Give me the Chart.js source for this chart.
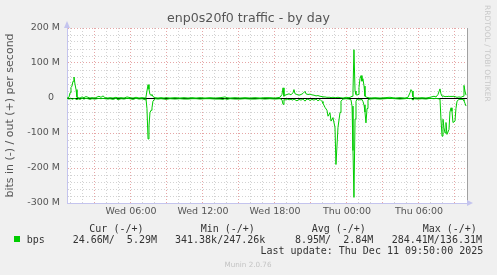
<!DOCTYPE html>
<html><head><meta charset="utf-8">
<script src="https://cdn.jsdelivr.net/npm/chart.js@4/dist/chart.umd.min.js"></script>
<style>
html,body{margin:0;padding:0;background:#f0f0f0;}
#wrap{position:relative;width:497px;height:275px;overflow:hidden;background:#f0f0f0;}
canvas{position:absolute;left:0;top:0;}
.mono{position:absolute;white-space:pre;font-family:"DejaVu Sans Mono",monospace;font-size:10px;line-height:12px;color:#333;}
.munin{position:absolute;white-space:pre;font-family:"DejaVu Sans",sans-serif;font-size:7.2px;line-height:9px;color:#c4c4c4;}
.rrd{position:absolute;white-space:pre;font-family:"DejaVu Sans",sans-serif;font-size:7.5px;line-height:9px;color:#c8c8c8;writing-mode:vertical-rl;}
.swatch{position:absolute;width:6px;height:6px;background:#00cc00;}
</style></head>
<body><div id="wrap"><canvas id="c" width="497" height="275"></canvas></div>
<script>
// ---- data (Mbit/s), time in hours from Wed 00:00 ----
const times = [
 0.67,0.83,0.92,1.00,1.08,1.17,1.25,1.33,1.42,1.50, 1.58,1.75,1.92,2.08,2.25,2.42,2.58,2.75,3.00,3.33,
 3.50,3.67,3.83,4.08,4.25,4.50,4.75,4.92,5.17,5.42, 5.67,5.92,6.17,6.42,6.67,6.92,7.17,7.25,7.33,7.42,
 7.50,7.58,7.67,7.75,7.83,8.00,
 8.25,8.50,8.75,8.92,9.25,9.67,10.08,10.42,10.75,11.08, 11.42,11.75,12.17,12.58,13.00,13.42,13.67,13.83,14.00,14.25,
 14.67,15.08,15.50,15.92,16.33,16.75,17.17,17.58,18.00,18.42,
 18.58,18.67,18.75,18.83,19.00,19.17,19.33,19.50,19.58,19.67, 19.83,20.00,20.17,20.33,20.50,20.58,20.75,20.92,21.08,21.25,
 21.42,21.58,21.75,21.92,22.00,22.17,22.33,22.42,22.58,22.67, 22.83,23.00,23.08,23.25,23.42,23.50,23.67,
 23.92,24.17,24.33,24.42,24.50,24.58,24.67,24.75,24.83,24.92, 25.00,25.08,25.17,25.25,25.33,25.42,25.50,25.58,25.67,25.75,
 25.92,
 26.33,26.75,27.17,27.58,28.00,28.42,28.83,29.08,29.25,29.33, 29.42,29.50,29.58,29.92,30.25,30.58,30.92,31.25,31.42,31.58,
 31.75,31.83,31.92,32.00,32.08,32.17,32.25,32.33,32.50,32.58, 32.67,32.75,32.83,33.00,33.08,33.17,33.33,33.50,33.67,33.75,
 33.83,33.92
];
const outMbps = [
 0,2,15,30,34,48,60,40,24,2, 1,0,3,1,4,2,0,1,0,5,
 2,6,1,0,1,0,2,0,1,0, 3,1,0,2,0,1,0,3,20,38,
 25,10,8,10,4,1,
 0,1,0,1,0,1,0,1,0,1, 0,1,0,1,0,1,2,3,1,0,
 1,0,1,0,1,0,1,1,0,2,
 10,29,5,8,10,12,9,15,24,12, 10,8,10,13,19,12,10,11,9,8,
 6,7,5,4,3,3,2,2,2,1, 2,1,1,2,1,1,0,
 2,1,3,5,20,138,20,10,8,10, 30,55,64,48,55,34,5,3,2,1,
 0,
 1,0,1,2,0,1,0,2,15,24, 20,3,1,0,1,0,2,5,3,10,
 26,12,5,6,5,4,5,4,5,4, 5,4,5,4,3,2,3,2,5,36,
 20,8
];
const inMbps = [
 -1,-3,-2,-1,-4,-2,-1,-2,-3,-5, -2,-4,-1,-3,-1,-2,-4,-2,-3,-1,
 -2,-1,-2,-3,-2,-4,-1,-5,-2,-3, -1,-2,-4,-1,-3,-2,-5,-2,-30,-117,
 -80,-42,-35,-28,-9,-2,
 -3,-2,-3,-4,-2,-3,-2,-3,-3,-2, -2,-3,-2,-2,-3,-3,-4,-2,-4,-2,
 -3,-3,-2,-3,-3,-2,-3,-2,-3,-2,
 -5,-18,-4,-6,-3,-5,-4,-6,-3,-5, -8,-4,-6,-3,-9,-5,-3,-7,-4,-6,
 -3,-8,-4,-10,-15,-27,-35,-52,-42,-66, -56,-84,-190,-84,-41,-9,-3,
 -2,-3,-5,-23,-150,-284,-60,-10,-3,-5, -4,-6,-4,-5,-10,-20,-40,-71,-30,-5,
 -3,
 -2,-3,-2,-1,-2,-3,-2,-1,-2,-1, -3,-6,-2,-3,-2,-3,-1,-2,-1,-2,
 -3,-60,-109,-61,-85,-100,-70,-104,-90,-40, -28,-38,-70,-66,-30,-9,-4,-4,-4,-8,
 -15,-23
];
const xTickHours = [6, 12, 18, 24, 30];
const xTickLabels = ['Wed 06:00', 'Wed 12:00', 'Wed 18:00', 'Thu 00:00', 'Thu 06:00'];
const yTickValues = [-300, -200, -100, 0, 100, 200];
const yTickLabels = ['-300 M', '-200 M', '-100 M', '0  ', '100 M', '200 M'];
const seriesName = 'bps';
const statHeaders = ['Cur (-/+)', 'Min (-/+)', 'Avg (-/+)', 'Max (-/+)'];
const statValues = ['24.66M/  5.29M', '341.38k/247.26k', '8.95M/  2.84M', '284.41M/136.31M'];
const lastUpdate = 'Last update: Thu Dec 11 09:50:00 2025';
const chartTitle = 'enp0s20f0 traffic - by day';
const yTitle = 'bits in (-) / out (+) per second';
const creditText = 'Munin 2.0.76';
const sideText = 'RRDTOOL / TOBI OETIKER';

// ---- style ----
const GREEN = '#00cc00';
const MAJOR = '#e6a6a6';
const MINOR = '#d2d2d2';
const AXIS = '#c4c4ee';
const LABEL = '#555555';
const tickFont = {family: 'DejaVu Sans', size: 9.5};

const hourGrid = []; for (let h = 1; h <= 34; h++) hourGrid.push(h);
const yGrid = []; for (let v = -300; v <= 200; v += 20) yGrid.push(v);

const pts = arr => arr.map((v, i) => ({x: times[i], y: v}));

const decor = {
  id: 'decor',
  beforeDraw(chart) {
    const {ctx, chartArea: a} = chart;
    ctx.save(); ctx.fillStyle = '#ffffff';
    ctx.fillRect(a.left, a.top, a.right - a.left, a.bottom - a.top);
    ctx.restore();
  },
  afterDraw(chart) {
    const {ctx, chartArea: a} = chart;
    ctx.save(); ctx.fillStyle = AXIS;
    ctx.beginPath(); ctx.moveTo(a.left, a.top - 7); ctx.lineTo(a.left - 3, a.top); ctx.lineTo(a.left + 3, a.top); ctx.closePath(); ctx.fill();
    ctx.beginPath(); ctx.moveTo(a.right + 6, a.bottom); ctx.lineTo(a.right, a.bottom - 3); ctx.lineTo(a.right, a.bottom + 3); ctx.closePath(); ctx.fill();
    ctx.restore();
  }
};

new Chart(document.getElementById('c'), {
  type: 'line',
  data: {datasets: [
    {label: seriesName + ' out', data: pts(outMbps), borderColor: GREEN, borderWidth: 1, pointRadius: 0, tension: 0, fill: false},
    {label: seriesName + ' in', data: pts(inMbps), borderColor: GREEN, borderWidth: 1, pointRadius: 0, tension: 0, fill: false}
  ]},
  options: {
    responsive: false, animation: false, devicePixelRatio: 1,
    layout: {autoPadding: false, padding: 0},
    plugins: {
      legend: {display: false}, tooltip: {enabled: false},
      title: {display: true, text: chartTitle, color: LABEL, font: {family: 'DejaVu Sans', size: 12.6, weight: 'normal'}, padding: {top: 11, bottom: 1.88}}
    },
    scales: {
      x: {
        type: 'linear', min: 0.667, max: 34,
        afterBuildTicks: s => { s.ticks = hourGrid.map(v => ({value: v})); },
        afterFit: s => { s.height = 72; },
        ticks: {autoSkip: false, maxRotation: 0, padding: 3, color: LABEL, font: tickFont,
          callback: v => { const i = xTickHours.indexOf(v); return i >= 0 ? xTickLabels[i] : ''; }},
        grid: {drawTicks: false, lineWidth: 1, color: c => (c.tick && c.tick.value % 3 === 0) ? MAJOR : MINOR},
        border: {display: true, color: AXIS, width: 1, dash: [1, 2]}
      },
      y: {
        min: -300, max: 200,
        afterBuildTicks: s => { s.ticks = yGrid.map(v => ({value: v})); },
        afterFit: s => { s.width = 67; },
        ticks: {autoSkip: false, padding: 7, color: LABEL, font: tickFont,
          callback: v => { const i = yTickValues.indexOf(v); return i >= 0 ? yTickLabels[i] : ''; }},
        grid: {drawTicks: false, lineWidth: 1, color: c => {
          const v = c.tick ? c.tick.value : null;
          if (v === -300) return 'rgba(0,0,0,0)';
          if (v === 0) return '#000000';
          return v % 100 === 0 ? MAJOR : MINOR; }},
        border: {display: true, color: AXIS, width: 1, dash: c => (c.tick && c.tick.value === 0) ? [] : [1, 2]},
        title: {display: true, text: yTitle, color: LABEL, font: {family: 'DejaVu Sans', size: 11}, padding: {top: 4, bottom: 0}}
      },
      y2: {
        position: 'right', min: -300, max: 200,
        afterFit: s => { s.width = 30; },
        grid: {display: false, drawTicks: false}, ticks: {display: false},
        border: {display: true, color: '#a0a0a0', width: 1}
      }
    }
  },
  plugins: [decor]
});

// ---- legend & footer text ----
const wrap = document.getElementById('wrap');
function addText(txt, left, top, cls) {
  const d = document.createElement('div'); d.className = cls; d.textContent = txt;
  d.style.left = left + 'px'; d.style.top = top + 'px'; wrap.appendChild(d); return d;
}
const sw = document.createElement('div'); sw.className = 'swatch'; sw.style.left = '14px'; sw.style.top = '236px'; wrap.appendChild(sw);
const headerLeft = [89.3, 200.7, 311.7, 422.7];
const valueLeft = [72.7, 175, 295, 391.7];
statHeaders.forEach((h, i) => addText(h, headerLeft[i], 222.5, 'mono'));
addText(seriesName, 26.7, 233.5, 'mono');
statValues.forEach((v, i) => addText(v, valueLeft[i], 233.5, 'mono'));
addText(lastUpdate, 260.5, 245, 'mono');
const cr = addText(creditText, 0, 259.5, 'munin'); cr.style.left = (248 - cr.offsetWidth / 2) + 'px';
addText(sideText, 483, 5, 'rrd');
</script>
</body></html>
